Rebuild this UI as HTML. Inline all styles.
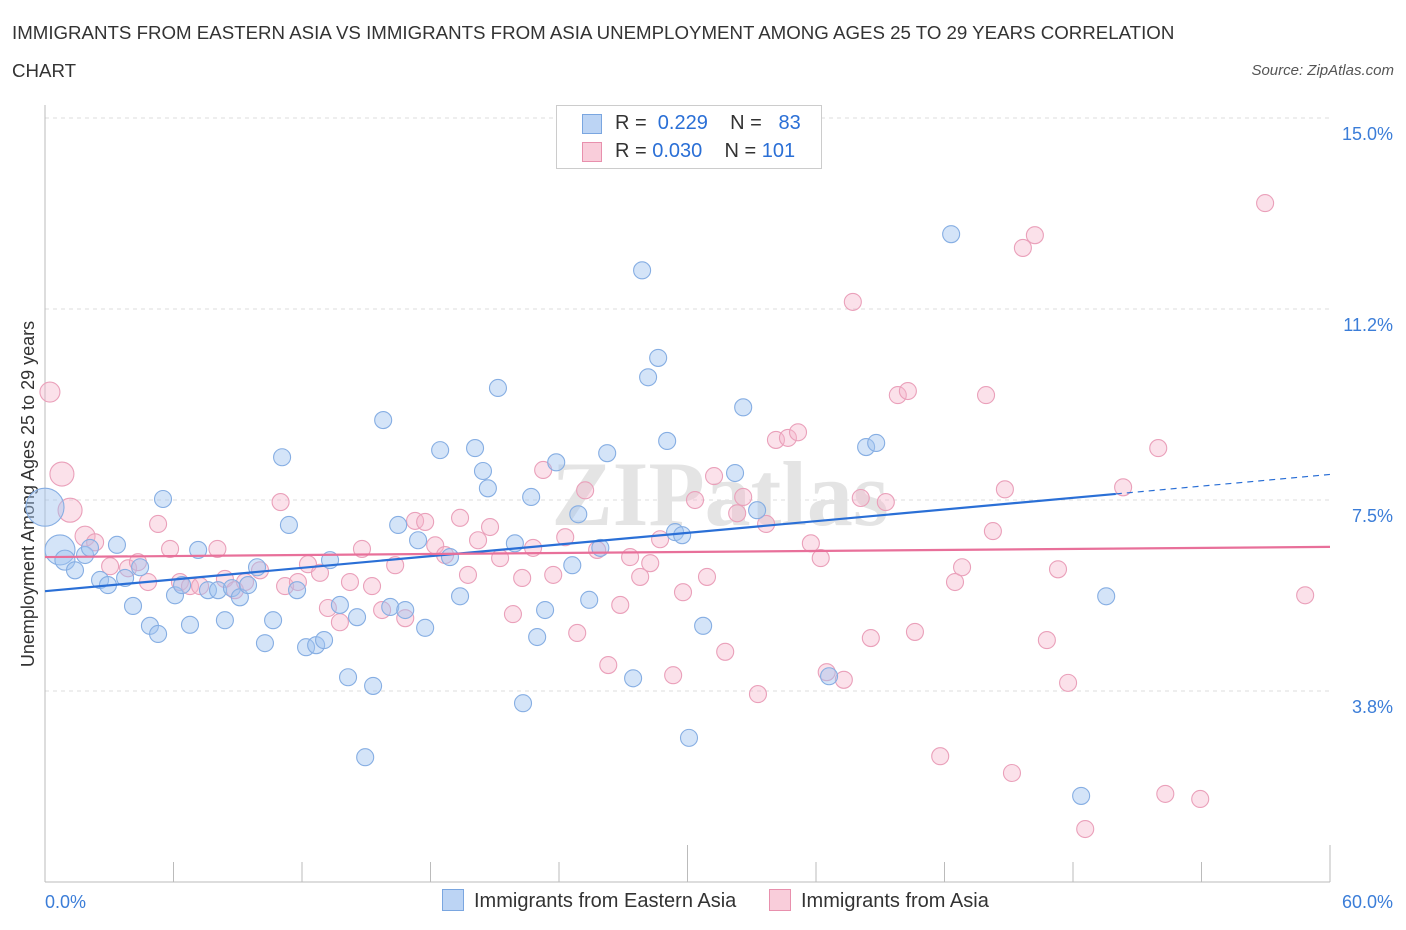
<!DOCTYPE html>
<html><head><meta charset="utf-8">
<style>
body{margin:0;background:#fff;font-family:"Liberation Sans",sans-serif;}
#wrap{position:relative;width:1406px;height:930px;overflow:hidden;}
.t{position:absolute;white-space:nowrap;}
</style></head>
<body>
<div id="wrap">
<div class="t" style="left:12px;top:14px;font-size:18.7px;color:#333;line-height:38px;">IMMIGRANTS FROM EASTERN ASIA VS IMMIGRANTS FROM ASIA UNEMPLOYMENT AMONG AGES 25 TO 29 YEARS CORRELATION<br>CHART</div>
<div class="t" style="right:12px;top:62px;font-size:15px;color:#555;font-style:italic;">Source: ZipAtlas.com</div>
<svg id="svg" width="1406" height="930" style="position:absolute;left:0;top:0"></svg>
</div>
<script>
const yTicks=[15.0,11.2,7.5,3.8];
const yTickVals=[15,11.25,7.5,3.75];
const xTickLabels=["0.0%","60.0%"];
const blueX=[0,0.7,0.93,1.4,1.87,2.1,2.57,2.94,3.36,3.74,4.11,4.44,4.9,5.28,5.51,6.07,6.4,6.77,7.15,7.61,8.08,8.4,8.73,9.1,9.48,9.9,10.27,10.65,11.07,11.39,11.77,12.19,12.66,13.03,13.31,13.77,14.15,14.57,14.95,15.32,15.79,16.12,16.49,16.82,17.42,17.75,18.45,18.91,19.38,20.08,20.45,20.68,21.15,21.94,22.32,22.7,22.98,23.35,23.87,24.62,24.9,25.41,25.93,26.25,27.46,27.88,28.16,28.63,29.05,29.42,29.75,30.07,30.73,32.22,32.6,33.25,36.61,38.34,38.81,42.31,48.38,49.55];
const blueY=[7.36,6.52,6.32,6.12,6.42,6.56,5.93,5.83,6.62,5.97,5.42,6.18,5.03,4.87,7.52,5.63,5.83,5.05,6.52,5.73,5.73,5.14,5.77,5.59,5.83,6.18,4.69,5.14,8.34,7.01,5.73,4.61,4.65,4.75,6.32,5.44,4.02,5.2,2.45,3.85,9.07,5.4,7.01,5.34,6.71,4.99,8.48,6.38,5.61,8.52,8.07,7.73,9.7,6.65,3.51,7.56,4.81,5.34,8.24,6.22,7.22,5.54,6.56,8.42,4.0,12.01,9.91,10.29,8.66,6.87,6.81,2.83,5.03,8.03,9.32,7.3,4.04,8.54,8.62,12.72,1.69,5.61];
const pinkX=[0.23,0.79,1.17,1.87,2.34,3.04,3.88,4.34,4.81,5.28,5.84,6.3,6.77,7.24,8.05,8.4,8.87,9.34,10.04,11.0,11.21,11.81,12.28,12.84,13.21,13.77,14.24,14.8,15.27,15.74,16.35,16.82,17.28,17.75,18.22,18.68,19.38,19.75,20.22,20.78,21.25,21.85,22.28,22.79,23.26,23.73,24.29,24.85,25.22,25.78,26.3,26.86,27.32,27.79,28.26,28.72,29.33,29.79,30.35,30.91,31.24,31.76,32.32,32.6,33.29,33.67,34.13,34.69,35.16,35.76,36.22,36.5,37.3,37.72,38.09,38.56,39.26,39.82,40.29,40.62,41.8,42.49,42.82,43.94,44.26,44.82,45.15,45.66,46.22,46.78,47.3,47.77,48.57,50.34,51.98,52.31,53.94,56.97,58.84];
const pinkY=[9.62,8.01,7.3,6.79,6.67,6.2,6.16,6.28,5.89,7.03,6.54,5.89,5.81,5.81,6.54,5.95,5.73,5.89,6.12,7.46,5.81,5.89,6.24,6.07,5.38,5.1,5.89,6.54,5.81,5.34,6.22,5.18,7.09,7.07,6.61,6.42,7.15,6.03,6.71,6.97,6.36,5.26,5.97,6.56,8.09,6.03,6.77,4.89,7.69,6.52,4.26,5.44,6.38,5.99,6.26,6.73,4.06,5.69,7.5,5.99,7.97,4.52,7.24,7.56,3.69,7.03,8.68,8.72,8.83,6.65,6.36,4.12,3.97,11.39,7.54,4.79,7.46,9.56,9.64,4.91,2.47,5.89,6.18,9.56,6.89,7.71,2.14,12.45,12.7,4.75,6.14,3.91,1.04,7.75,8.52,1.73,1.63,13.33,5.63];
const blueTrend=[5.71,7.62]; // value at x=0 and x=50
const pinkTrend=[6.38,6.58]; // value at x=0 and x=60

const NS="http://www.w3.org/2000/svg";
const svg=document.getElementById('svg');
const X0=45,X1=1330,YB=882,PPU=50.93;
const sx=v=>X0+(v/60)*(X1-X0);
const sy=v=>YB-v*PPU;
function mk(tag,attrs){const e=document.createElementNS(NS,tag);for(const k in attrs)e.setAttribute(k,attrs[k]);svg.appendChild(e);return e;}

yTickVals.forEach((v,i)=>{
  const g=mk('line',{x1:X0,x2:X1,y1:sy(v),y2:sy(v),stroke:'#ddd','stroke-dasharray':'4,4'});
  
  
  const t=mk('text',{x:1393,y:sy(v)+22,'text-anchor':'end','font-size':18,fill:'#3b7dd8','font-family':'Liberation Sans, sans-serif'});
  t.textContent=yTicks[i].toFixed(1)+'%';
  
  
});
const ax=mk('line',{x1:X0,x2:X0,y1:105,y2:YB,stroke:'#bbb'});


const axx=mk('line',{x1:X0,x2:X1,y1:YB,y2:YB,stroke:'#bbb'});


for(let i=0;i<=10;i++){
  const tk=mk('line',{x1:sx(i*6),x2:sx(i*6),y1:i%5==0?845:862,y2:YB,stroke:'#bbb'});
  
  
}
const xl0=mk('text',{x:45,y:908,'font-size':18,fill:'#3b7dd8','font-family':'Liberation Sans, sans-serif'});
xl0.textContent=xTickLabels[0];


const xl1=mk('text',{x:1393,y:908,'text-anchor':'end','font-size':18,fill:'#3b7dd8','font-family':'Liberation Sans, sans-serif'});
xl1.textContent=xTickLabels[1];


const yt=mk('text',{x:0,y:0,transform:'translate(34,494) rotate(-90)','text-anchor':'middle','font-size':18,fill:'#333','font-family':'Liberation Sans, sans-serif'});
yt.textContent='Unemployment Among Ages 25 to 29 years';


const wm=mk('text',{x:720,y:525,'text-anchor':'middle','font-size':92,fill:'#e4e4e4','font-family':'Liberation Serif, serif','font-weight':'bold'});
wm.textContent='ZIPatlas';



function pts(xs,ys,fill,stroke,name,big){
  xs.forEach((x,i)=>{
    const r=big[i]||8.5;
    const c=mk('circle',{cx:sx(x),cy:sy(ys[i]),r:r,fill:fill,stroke:stroke,'stroke-width':1.1});
    
    
  });
}
pts(pinkX,pinkY,'rgba(246,180,202,0.4)','#eaa0ba','pink-point',{0:10,1:12,2:12,3:10});
pts(blueX,blueY,'rgba(160,196,240,0.45)','#86aee3','blue-point',{0:19,1:15,2:10});

const bl=mk('line',{x1:sx(0),y1:sy(blueTrend[0]),x2:sx(50),y2:sy(blueTrend[1]),stroke:'#2a6fd6','stroke-width':2.2});


const slope=(blueTrend[1]-blueTrend[0])/50;
const bd=mk('line',{x1:sx(50),y1:sy(blueTrend[1]),x2:sx(60),y2:sy(blueTrend[0]+slope*60),stroke:'#2a6fd6','stroke-width':1.2,'stroke-dasharray':'6,5'});


const pl=mk('line',{x1:sx(0),y1:sy(pinkTrend[0]),x2:sx(60),y2:sy(pinkTrend[1]),stroke:'#e8709a','stroke-width':2.2});


</script>
<div class="t" style="left:556px;top:105px;width:264px;height:62px;border:1px solid #ccc;background:#fff;font-size:20px;color:#333;">
  <div style="position:absolute;left:25px;top:8px;width:18px;height:18px;background:#bcd4f4;border:1px solid #7aa6e0;"></div>
  <div style="position:absolute;left:58px;top:6px;">R = <span style="color:#2a6fd6">&nbsp;0.229</span>&nbsp;&nbsp;&nbsp; N = &nbsp;<span style="color:#2a6fd6">&nbsp;83</span></div>
  <div style="position:absolute;left:25px;top:36px;width:18px;height:18px;background:#f9cdda;border:1px solid #e890ad;"></div>
  <div style="position:absolute;left:58px;top:34px;">R = <span style="color:#2a6fd6">0.030</span>&nbsp;&nbsp;&nbsp; N = <span style="color:#2a6fd6">101</span></div>
</div>
<div class="t" style="left:442px;top:889px;font-size:20px;color:#333;">
  <span style="display:inline-block;width:20px;height:20px;background:#bcd4f4;border:1px solid #7aa6e0;vertical-align:-4px;margin-right:10px;"></span>Immigrants from Eastern Asia</div>
<div class="t" style="left:769px;top:889px;font-size:20px;color:#333;">
  <span style="display:inline-block;width:20px;height:20px;background:#f9cdda;border:1px solid #e890ad;vertical-align:-4px;margin-right:10px;"></span>Immigrants from Asia</div>
</body></html>
